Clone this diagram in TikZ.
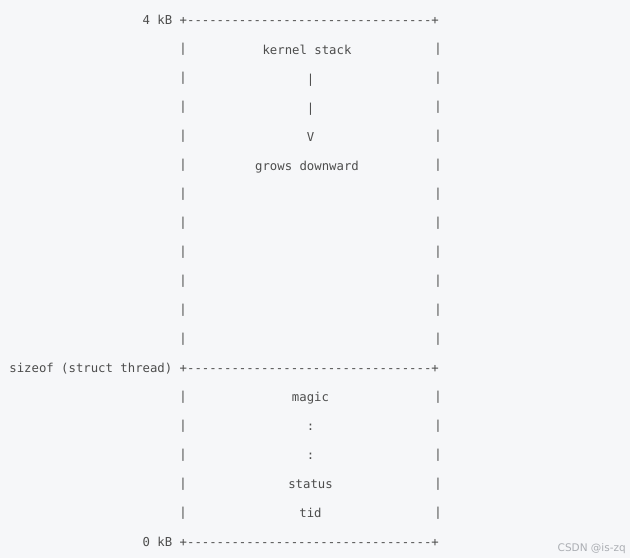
\documentclass[tikz,border=0pt]{standalone}
\usepackage{fontspec}
\setmonofont{DejaVu Sans Mono}
\setsansfont{DejaVu Sans}
\usetikzlibrary{positioning}
\definecolor{pagebg}{HTML}{F6F7F9}
\definecolor{ink}{HTML}{4D4D4D}
\definecolor{wmark}{HTML}{ABAEB3}

\begin{document}
\begin{tikzpicture}[
  x=1pt, y=-1pt,
  txt/.style={inner sep=0pt, text=ink, font=\ttfamily\fontsize{12.3}{14}\selectfont},
  bar/.style={txt, anchor=center},
  lbl/.style={txt, anchor=base east},
  brd/.style={txt, anchor=base west},
  mid/.style={txt, anchor=base},
]
\fill[pagebg] (0,0) rectangle (630,558);
\useasboundingbox (0,0) rectangle (630,558);

% borders and their labels
\node[brd] (top)    at (179.5, 24.5)  {+---------------------------------+};
\node[brd] (split)  at (179.5, 372.5) {+---------------------------------+};
\node[brd] (bottom) at (179.5, 546.5) {+---------------------------------+};
\node[lbl] (topkb)  at (172.5, 24.5)  {4 kB};
\node[lbl] (sizeof) at (172.5, 372.5) {sizeof (struct thread)};
\node[lbl] (zerokb) at (172.5, 546.5) {0 kB};

% side walls
\foreach \i in {1,...,11,13,14,15,16,17} {
  \node[bar] (lw\i) at (183, 20+29*\i) {|};
  \node[bar] (rw\i) at (438, 20+29*\i) {|};
}

% kernel stack
\node[mid] (kstack) at (307, 54.5)  {kernel stack};
\node[mid] (pipe1)  at (310.5, 83.5)  {|};
\node[mid] (pipe2)  at (310.5, 112.5) {|};
\node[mid] (vee)    at (310.5, 141.5) {V};
\node[mid] (grows)  at (307, 170.5) {grows downward};

% struct thread
\node[mid] (magic)  at (310.5, 401.5) {magic};
\node[mid] (dots1)  at (310.5, 430.5) {:};
\node[mid] (dots2)  at (310.5, 459.5) {:};
\node[mid] (status) at (310.5, 488.5) {status};
\node[mid] (tid)    at (310.5, 517.5) {tid};

\node[inner sep=0pt, anchor=base east, text=wmark, font=\sffamily\fontsize{10.5}{12}\selectfont]
  (csdn) at (626, 551) {CSDN @is-zq};
\end{tikzpicture}
\end{document}
